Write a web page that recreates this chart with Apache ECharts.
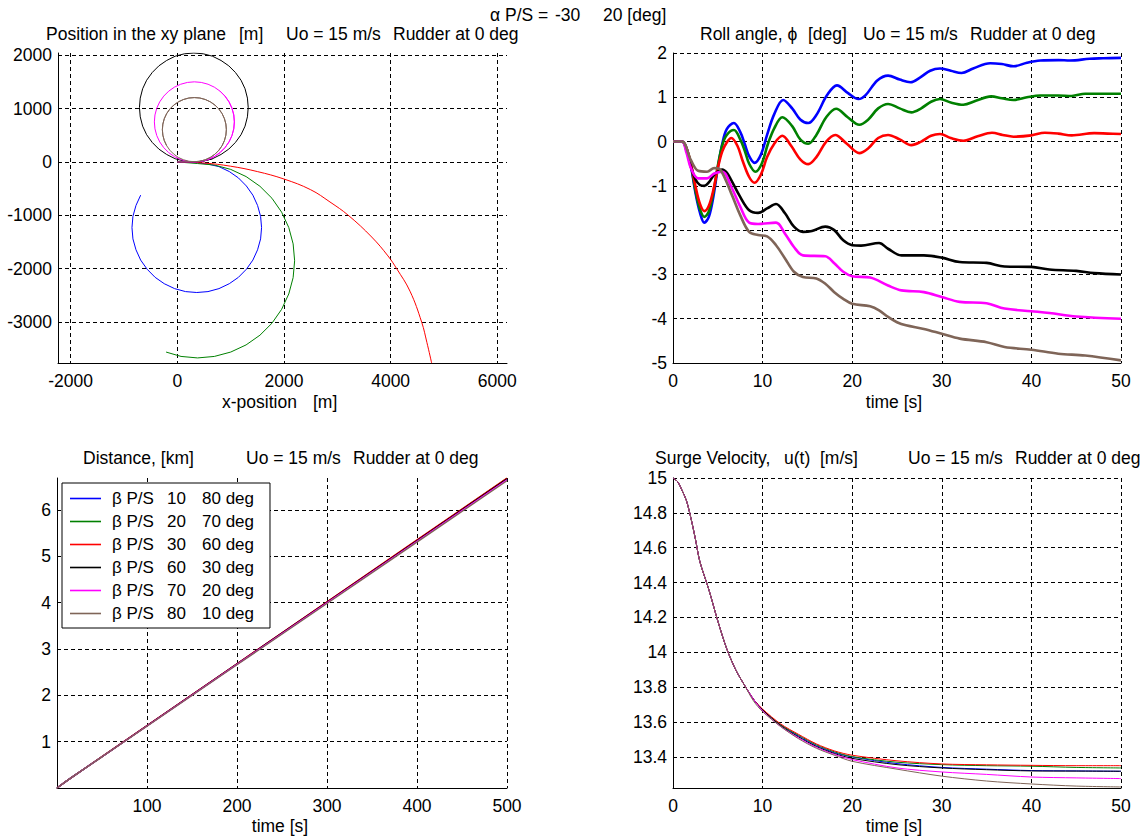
<!DOCTYPE html>
<html><head><meta charset="utf-8">
<script src="https://cdn.jsdelivr.net/npm/echarts@6/dist/echarts.min.js"></script>
<style>html,body{margin:0;padding:0;background:#fff}#c{width:1146px;height:838px}</style>
</head><body><div id="c"></div>
<script>
const FONT = '"Liberation Sans", Arial, sans-serif';
const FS = 17.5;
const seriesColors = ['#0000ff', '#008000', '#ff0000', '#000000', '#ff00ff', '#7f6558'];
const betaP = [10, 20, 30, 60, 70, 80];
const betaS = [80, 70, 60, 30, 20, 10];
const seriesNames = betaP.map((p, i) => 'β P/S ' + p + ' ' + betaS[i] + ' deg');

// ---- Position in the xy plane [m] : [x, y] ----
const xyBlue = [[0,0],[365,-15],[575,-40],[781,-88],[975,-180],[1146,-299],[1295,-450],[1417,-622],[1505,-815],[1562,-1019],[1580,-1230],[1562,-1441],[1505,-1645],[1417,-1838],[1295,-2010],[1146,-2161],[975,-2280],[781,-2372],[575,-2428],[365,-2445],[155,-2428],[-51,-2372],[-245,-2280],[-416,-2161],[-565,-2010],[-687,-1838],[-775,-1645],[-832,-1441],[-850,-1230],[-832,-1019],[-775,-815],[-687,-622]];
const xyGreen = [[0,0],[380,-30],[695,-58],[1002,-140],[1290,-274],[1550,-456],[1775,-680],[1956,-940],[2090,-1228],[2172,-1534],[2200,-1850],[2172,-2166],[2090,-2472],[1956,-2760],[1775,-3020],[1550,-3244],[1290,-3426],[1002,-3560],[695,-3642],[380,-3670],[70,-3642],[-210,-3560]];
const xyRed = [[0,0],[500,-20],[1000,-80],[1500,-180],[2000,-320],[2500,-520],[2863,-750],[3207,-1000],[3645,-1406],[3950,-1760],[4114,-2000],[4363,-2420],[4582,-3000],[4680,-3380],[4770,-3770]];
const xyBlack = [[0,0],[310,0],[487,15],[660,60],[820,140],[965,240],[1090,365],[1195,510],[1270,670],[1315,845],[1330,1020],[1315,1195],[1270,1370],[1195,1530],[1090,1675],[965,1800],[820,1900],[660,1980],[487,2025],[310,2040],[133,2025],[-40,1980],[-200,1900],[-345,1800],[-470,1675],[-575,1530],[-650,1370],[-695,1195],[-710,1020],[-695,845],[-650,670],[-575,510],[-470,365],[-345,240],[-200,140],[-40,60],[133,15],[310,0],[487,15],[660,60]];
const xyMagenta = [[0,0],[320,0],[450,11],[577,45],[695,100],[802,175],[894,267],[970,375],[1025,493],[1059,620],[1070,750],[1059,880],[1025,1007],[970,1125],[894,1233],[802,1325],[695,1400],[577,1455],[450,1489],[320,1500],[190,1489],[63,1455],[-55,1400],[-162,1325],[-254,1233],[-330,1125],[-385,1007],[-419,880],[-430,750],[-419,620],[-385,493],[-330,375],[-254,267],[-162,175],[-55,100],[63,45],[190,11],[320,0],[450,11],[577,45],[695,100],[802,175],[894,267],[970,375],[1025,493],[1059,620],[1070,750],[1059,880],[1025,1007],[970,1125],[894,1233],[802,1325]];
const xyBrown = [[0,0],[320,5],[424,13],[525,41],[620,85],[706,145],[780,219],[840,305],[884,400],[911,501],[920,605],[911,709],[884,810],[840,905],[780,991],[706,1065],[620,1125],[525,1169],[424,1197],[320,1205],[216,1197],[115,1169],[20,1125],[-66,1065],[-140,991],[-200,905],[-244,810],[-271,709],[-280,605],[-271,501],[-244,400],[-200,305],[-140,219],[-66,145],[20,85],[115,41],[216,13],[320,5],[424,13],[525,41],[620,85],[706,145],[780,219],[840,305],[884,400],[911,501],[920,605],[911,709],[884,810],[840,905],[780,991],[706,1065],[620,1125],[525,1169],[424,1197],[320,1205],[216,1197],[115,1169],[20,1125],[-66,1065],[-140,991],[-200,905],[-244,810],[-271,709],[-280,605],[-271,501],[-244,400],[-200,305]];

// ---- Roll angle phi [deg] : [t, phi] ----
const rollBlue = [[0,0],[1,0],[1.5,-0.15],[2,-0.55],[2.5,-1.15],[3,-1.6],[3.5,-1.83],[4,-1.7],[4.5,-1.25],[5,-0.6],[5.5,-0.05],[6,0.28],[6.8,0.42],[7.5,0.22],[8,-0.05],[8.5,-0.33],[9.1,-0.48],[9.8,-0.3],[10.5,0.15],[11.3,0.62],[12.3,0.94],[13.3,0.75],[14.2,0.5],[15.1,0.42],[16,0.6],[17.2,1.05],[18.3,1.27],[19.5,1.1],[20.7,0.96],[21.5,1.05],[22.8,1.38],[24,1.49],[25.3,1.4],[26.5,1.34],[27.6,1.45],[28.7,1.6],[29.8,1.65],[31,1.6],[32.2,1.55],[33.5,1.65],[35.4,1.77],[36.7,1.75],[38,1.7],[39.5,1.78],[41,1.83],[43,1.84],[44.3,1.83],[46.5,1.87],[48,1.88],[50,1.89]];
const rollGreen = [[0,0],[1,0],[1.5,-0.15],[2,-0.52],[2.5,-1.1],[3,-1.52],[3.5,-1.7],[4,-1.58],[4.5,-1.15],[5,-0.55],[5.5,-0.08],[6,0.15],[6.8,0.26],[7.5,0.05],[8,-0.2],[8.5,-0.5],[9.2,-0.68],[9.9,-0.5],[10.6,-0.05],[11.3,0.3],[12.2,0.55],[13.3,0.35],[14.2,0.05],[15.1,-0.05],[16,0.15],[17.1,0.55],[18.2,0.74],[19.5,0.55],[20.8,0.38],[21.8,0.5],[22.9,0.75],[24,0.85],[25.3,0.75],[26.6,0.66],[27.7,0.75],[28.8,0.9],[29.8,0.96],[31,0.88],[32.4,0.83],[33.8,0.92],[35.5,1.02],[36.7,0.98],[38,0.94],[39.5,1.0],[41,1.04],[43,1.04],[44.5,1.03],[46,1.08],[48,1.08],[50,1.08]];
const rollRed = [[0,0],[1,0],[1.5,-0.15],[2,-0.5],[2.5,-1.0],[3,-1.4],[3.5,-1.57],[4,-1.45],[4.5,-1.1],[5,-0.6],[5.5,-0.22],[6,-0.02],[6.5,0.08],[7.2,-0.1],[7.8,-0.45],[8.5,-0.8],[9.1,-0.93],[9.8,-0.75],[10.5,-0.35],[11.3,-0.05],[12.2,0.13],[13.2,-0.1],[14.2,-0.4],[15.1,-0.51],[16,-0.35],[17.1,0.0],[18.1,0.15],[19.4,-0.05],[20.8,-0.26],[21.8,-0.15],[22.9,0.08],[24,0.15],[25.3,0.05],[26.6,-0.08],[27.7,0.0],[28.8,0.13],[29.8,0.17],[31,0.08],[32.4,0.02],[34,0.12],[35.6,0.2],[36.8,0.15],[38,0.11],[40,0.14],[41.5,0.2],[43,0.18],[44.5,0.14],[47,0.19],[48.5,0.18],[50,0.17]];
const rollBlack = [[0,0],[1,0],[1.5,-0.2],[2,-0.57],[2.5,-0.85],[3,-0.98],[3.5,-1.0],[4,-0.92],[4.6,-0.75],[5.5,-0.63],[6,-0.7],[6.5,-0.87],[7.5,-1.25],[8.5,-1.55],[9.5,-1.61],[10.5,-1.51],[11.5,-1.41],[12.5,-1.62],[13.5,-1.92],[14.5,-2.04],[15.5,-2.02],[17,-1.92],[18,-2.0],[19,-2.23],[20,-2.34],[21,-2.35],[23,-2.29],[24,-2.42],[25.5,-2.57],[28,-2.57],[30,-2.62],[32,-2.72],[35,-2.74],[37,-2.82],[40,-2.83],[42,-2.89],[45,-2.92],[47,-2.97],[50,-3.0]];
const rollMagenta = [[0,0],[1,0],[1.5,-0.25],[2,-0.6],[2.8,-0.83],[3.8,-0.83],[4.6,-0.72],[5.5,-0.68],[6.5,-1.02],[7.5,-1.47],[8.5,-1.83],[9.5,-1.86],[11.5,-1.83],[12.5,-2.08],[13.5,-2.38],[14.5,-2.57],[17,-2.59],[18,-2.75],[19,-2.94],[20,-3.04],[22,-3.07],[24,-3.25],[25.5,-3.36],[28,-3.4],[30,-3.51],[32,-3.62],[35,-3.65],[37,-3.77],[40,-3.83],[42,-3.87],[45,-3.95],[50,-4.0]];
const rollBrown = [[0,0],[1,0],[2,-0.42],[2.8,-0.66],[3.8,-0.68],[4.6,-0.6],[5.3,-0.64],[6.5,-1.17],[7.5,-1.66],[8.5,-2.04],[9.5,-2.11],[10.5,-2.14],[11.5,-2.34],[12.5,-2.64],[13.5,-2.94],[14.5,-3.06],[16,-3.09],[17,-3.21],[18,-3.4],[19,-3.55],[20,-3.66],[22,-3.72],[23,-3.81],[24,-3.96],[25,-4.08],[26,-4.15],[28,-4.23],[30,-4.34],[32,-4.45],[35,-4.53],[37,-4.64],[40,-4.7],[43,-4.79],[46,-4.83],[50,-4.94]];

// ---- Distance [km] ----
const distT = [0, 10, 20, 50, 100, 200, 300, 400, 500];
const distBlue    = [0, 0.143, 0.278, 0.675, 1.341, 2.673, 4.005, 5.336, 6.668];
const distGreen   = [0, 0.143, 0.278, 0.676, 1.343, 2.677, 4.010, 5.344, 6.678];
const distRed     = [0, 0.143, 0.278, 0.677, 1.345, 2.680, 4.015, 5.350, 6.685];
const distBlack   = [0, 0.143, 0.278, 0.675, 1.341, 2.673, 4.005, 5.336, 6.668];
const distMagenta = [0, 0.143, 0.278, 0.674, 1.338, 2.666, 3.993, 5.321, 6.648];
const distBrown   = [0, 0.143, 0.278, 0.672, 1.333, 2.656, 3.979, 5.302, 6.625];

// ---- Surge velocity u(t) [m/s] ----
const surgeT = [0, 0.5, 1, 1.5, 2, 2.5, 3, 4, 5, 6, 7, 8, 9, 10, 12, 14, 16, 18, 20, 25, 30, 35, 40, 45, 50];
const surgeBlue    = [15, 14.98, 14.93, 14.87, 14.77, 14.65, 14.52, 14.36, 14.18, 14.02, 13.9, 13.81, 13.73, 13.67, 13.585, 13.52, 13.465, 13.425, 13.4, 13.362, 13.34, 13.33, 13.322, 13.32, 13.318];
const surgeGreen   = [15, 14.98, 14.93, 14.87, 14.77, 14.65, 14.52, 14.36, 14.18, 14.02, 13.9, 13.81, 13.73, 13.67, 13.585, 13.525, 13.47, 13.43, 13.402, 13.37, 13.356, 13.35, 13.347, 13.34, 13.337];
const surgeRed     = [15, 14.98, 14.93, 14.87, 14.77, 14.65, 14.52, 14.36, 14.18, 14.02, 13.9, 13.81, 13.73, 13.675, 13.59, 13.53, 13.475, 13.435, 13.41, 13.378, 13.36, 13.355, 13.352, 13.35, 13.35];
const surgeBlack   = [15, 14.98, 14.93, 14.87, 14.77, 14.65, 14.52, 14.36, 14.18, 14.02, 13.9, 13.81, 13.73, 13.67, 13.58, 13.515, 13.46, 13.42, 13.392, 13.356, 13.337, 13.327, 13.32, 13.319, 13.318];
const surgeMagenta = [15, 14.98, 14.93, 14.87, 14.77, 14.65, 14.52, 14.36, 14.18, 14.02, 13.9, 13.81, 13.73, 13.665, 13.575, 13.51, 13.455, 13.415, 13.385, 13.337, 13.314, 13.3, 13.285, 13.28, 13.276];
const surgeBrown   = [15, 14.98, 14.93, 14.87, 14.77, 14.65, 14.52, 14.36, 14.18, 14.02, 13.9, 13.81, 13.72, 13.66, 13.575, 13.505, 13.45, 13.41, 13.375, 13.33, 13.29, 13.262, 13.245, 13.233, 13.228];

// ---- tick values ----
const xyXTicks = [-2000, 0, 2000, 4000, 6000];
const xyYTicks = [-3000, -2000, -1000, 0, 1000, 2000];
const rollXTicks = [0, 10, 20, 30, 40, 50];
const rollYTicks = [-5, -4, -3, -2, -1, 0, 1, 2];
const distXTicks = [100, 200, 300, 400, 500];
const distYTicks = [1, 2, 3, 4, 5, 6];
const surgeXTicks = [0, 10, 20, 30, 40, 50];
const surgeYTicks = [13.4, 13.6, 13.8, 14, 14.2, 14.4, 14.6, 14.8, 15];

const xyData = [xyBlue, xyGreen, xyRed, xyBlack, xyMagenta, xyBrown];
const rollData = [rollBlue, rollGreen, rollRed, rollBlack, rollMagenta, rollBrown];
const distData = [distBlue, distGreen, distRed, distBlack, distMagenta, distBrown];
const surgeData = [surgeBlue, surgeGreen, surgeRed, surgeBlack, surgeMagenta, surgeBrown];

const chart = echarts.init(document.getElementById('c'), null, {renderer: 'svg'});

function mkAxis(gi, min, max, ticks, margin) {
  return {
    gridIndex: gi, type: 'value', min: min, max: max,
    axisLine: {show: true, onZero: false, lineStyle: {color: '#000', width: 1}},
    axisTick: {show: true, inside: true, length: 0, customValues: ticks},
    axisLabel: {customValues: ticks, color: '#000', fontSize: FS, fontFamily: FONT, margin: margin,
      formatter: v => String(v)},
    splitLine: {show: true, lineStyle: {color: '#000', type: [4, 3], width: 1}}
  };
}

const grids = [
  {left: 58, top: 53, width: 449, height: 310},
  {left: 673, top: 53, width: 448, height: 310},
  {left: 57, top: 478, width: 450, height: 310},
  {left: 673, top: 478, width: 448, height: 310}
].map(g => Object.assign({containLabel: false, outerBoundsMode: 'none'}, g));

const xAxes = [
  mkAxis(0, -2237, 6182, xyXTicks, 9),
  mkAxis(1, 0, 50, rollXTicks, 9),
  mkAxis(2, 0, 500, distXTicks, 9),
  mkAxis(3, 0, 50, surgeXTicks, 9)
];
const yAxes = [
  mkAxis(0, -3765, 2040, xyYTicks, 6),
  mkAxis(1, -5, 2, rollYTicks, 6),
  mkAxis(2, 0, 6.685, distYTicks, 6),
  mkAxis(3, 13.222, 15, surgeYTicks, 6)
];

const series = [];
function addSeries(gi, data, width, smoothFor) {
  data.forEach((d, i) => {
    series.push({
      type: 'line', name: seriesNames[i], xAxisIndex: gi, yAxisIndex: gi,
      data: d, symbol: 'none', showSymbol: false, smooth: smoothFor(i),
      lineStyle: {color: seriesColors[i], width: width},
      itemStyle: {color: seriesColors[i]},
      emphasis: {disabled: true}, silent: true, animation: false, z: 3
    });
  });
}
// the open red path is smoothed; the loops are drawn as dense polylines
addSeries(0, xyData, 1, i => (i === 2 ? 0.4 : false));
addSeries(1, rollData, 2.6, () => 0.35);
addSeries(2, distData.map(arr => arr.map((v, k) => [distT[k], v])), 1.3, () => false);
addSeries(3, surgeData.map(arr => arr.map((v, k) => [surgeT[k], v])), 1, () => 0.3);

function txt(s, x, y, align) {
  return {type: 'text', x: x, y: y, silent: true,
    style: {text: s, fill: '#000', fontSize: FS, fontFamily: FONT, align: align || 'left', verticalAlign: 'middle'}};
}
const texts = [
  txt('α P/S =', 490, 15), txt('-30', 555, 15), txt('20 [deg]', 603, 15),
  txt('Position in the xy plane', 46, 34), txt('[m]', 239, 34), txt('Uo = 15 m/s', 286, 34), txt('Rudder at 0 deg', 393, 34),
  txt('Roll angle, ϕ', 700, 34), txt('[deg]', 808, 34), txt('Uo = 15 m/s', 863, 34), txt('Rudder at 0 deg', 970, 34),
  txt('Distance, [km]', 83, 458), txt('Uo = 15 m/s', 246, 458), txt('Rudder at 0 deg', 353, 458),
  txt('Surge Velocity,', 655, 458), txt('u(t)', 784, 458), txt('[m/s]', 820, 458), txt('Uo = 15 m/s', 908, 458), txt('Rudder at 0 deg', 1015, 458),
  txt('x-position', 222, 402), txt('[m]', 313, 402),
  txt('time [s]', 894, 402, 'center'),
  txt('time [s]', 280, 826, 'center'),
  txt('time [s]', 894, 826, 'center')
];

const richBase = {fontSize: 17, fontFamily: FONT, color: '#000'};
chart.setOption({
  animation: false,
  backgroundColor: '#fff',
  grid: grids,
  xAxis: xAxes,
  yAxis: yAxes,
  series: series,
  legend: {
    data: seriesNames, left: 62, top: 483, orient: 'vertical',
    icon: 'rect', itemWidth: 31, itemHeight: 1.6, itemGap: 6,
    padding: [7, 16, 6, 8],
    borderColor: '#000', borderWidth: 1, backgroundColor: '#fff', selectedMode: false, z: 10,
    formatter: name => {
      const i = seriesNames.indexOf(name);
      return '{a|β P/S}{b|' + betaP[i] + '}{c|' + betaS[i] + ' deg}';
    },
    textStyle: Object.assign({}, richBase, {
      rich: {
        a: Object.assign({width: 55, padding: [0, 0, 0, 6]}, richBase),
        b: Object.assign({width: 35}, richBase),
        c: Object.assign({width: 60}, richBase)
      }
    })
  },
  graphic: texts
});
</script></body></html>
